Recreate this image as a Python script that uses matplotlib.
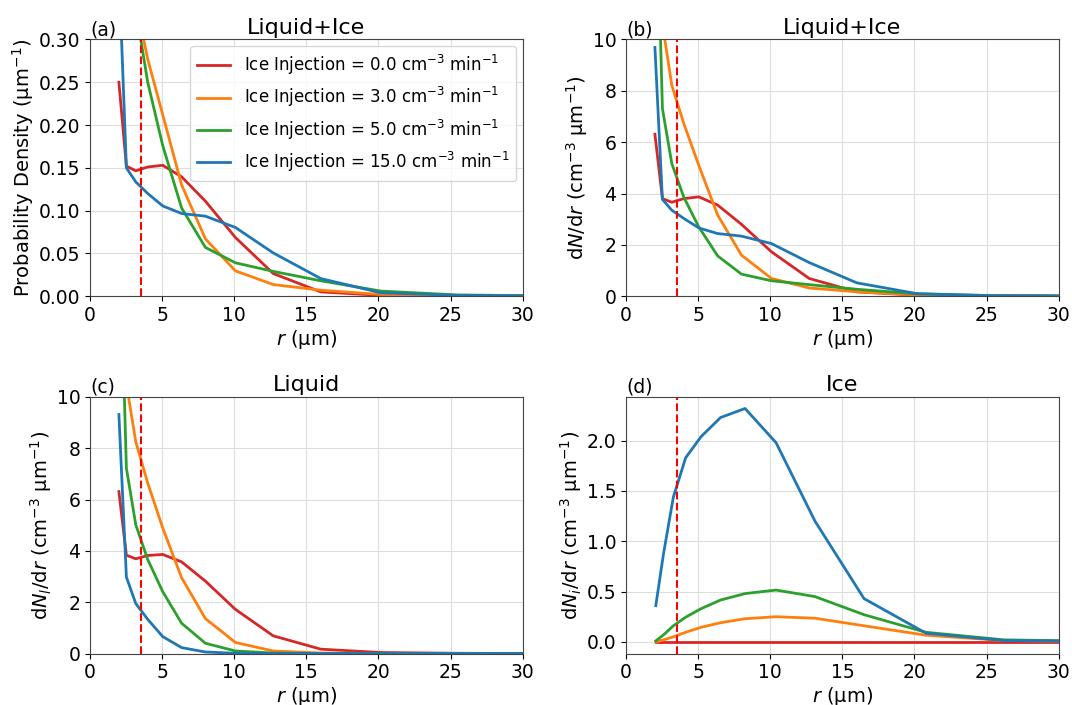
import numpy as np
import matplotlib.pyplot as plt

# Radius bins (µm)
r_liq = [2.0, 2.52, 3.17, 4.0, 5.04, 6.35, 8.0, 10.08, 12.7, 16.0, 20.16, 25.4, 32.0]
r_ice = [2.06, 2.6, 3.28, 4.13, 5.2, 6.55, 8.25, 10.4, 13.1, 16.5, 20.8, 26.2, 33.0]

labels = ["Ice Injection = 0.0 cm$^{-3}$ min$^{-1}$",
          "Ice Injection = 3.0 cm$^{-3}$ min$^{-1}$",
          "Ice Injection = 5.0 cm$^{-3}$ min$^{-1}$",
          "Ice Injection = 15.0 cm$^{-3}$ min$^{-1}$"]
colors = ["tab:red", "tab:orange", "tab:green", "tab:blue"]

# (a) probability density, liquid+ice
pdf_0 = [0.250, 0.152, 0.1465, 0.151, 0.153, 0.1395, 0.111, 0.0686, 0.0265, 0.005, 0.001, 0.0002, 0.0]
pdf_3 = [0.55, 0.445, 0.345, 0.277, 0.212, 0.130, 0.067, 0.0296, 0.0136, 0.007, 0.002, 0.0005, 0.0]
pdf_5 = [1.20, 0.475, 0.336, 0.250, 0.176, 0.103, 0.057, 0.039, 0.029, 0.018, 0.006, 0.0015, 0.0003]
pdf_15 = [0.383, 0.150, 0.1336, 0.120, 0.1055, 0.0966, 0.0935, 0.0803, 0.0506, 0.0206, 0.004, 0.001, 0.0002]

# (b) dN/dr, liquid+ice
tot_0 = [6.31, 3.80, 3.66, 3.80, 3.87, 3.55, 2.80, 1.73, 0.69, 0.17, 0.04, 0.01, 0.0]
tot_3 = [13.0, 10.6, 8.22, 6.73, 5.10, 3.16, 1.60, 0.69, 0.32, 0.17, 0.05, 0.01, 0.0]
tot_5 = [18.0, 7.31, 5.17, 3.86, 2.70, 1.57, 0.86, 0.60, 0.45, 0.27, 0.09, 0.02, 0.005]
tot_15 = [9.69, 3.77, 3.35, 3.03, 2.66, 2.44, 2.34, 2.05, 1.31, 0.52, 0.10, 0.02, 0.005]

# (c) dN_l/dr, liquid
liq_0 = [6.31, 3.83, 3.69, 3.82, 3.86, 3.57, 2.82, 1.72, 0.69, 0.17, 0.04, 0.01, 0.0]
liq_3 = [13.0, 10.5, 8.25, 6.64, 4.89, 2.95, 1.36, 0.43, 0.10, 0.02, 0.0, 0.0, 0.0]
liq_5 = [17.6, 7.22, 5.02, 3.66, 2.41, 1.18, 0.40, 0.10, 0.02, 0.0, 0.0, 0.0, 0.0]
liq_15 = [9.31, 2.98, 1.95, 1.33, 0.66, 0.23, 0.06, 0.01, 0.0, 0.0, 0.0, 0.0, 0.0]

# (d) dN_i/dr, ice
ice_0 = [0.0] * 13
ice_3 = [0.0, 0.02, 0.05, 0.095, 0.145, 0.19, 0.23, 0.25, 0.235, 0.16, 0.066, 0.013, 0.003]
ice_5 = [0.01, 0.07, 0.16, 0.245, 0.33, 0.416, 0.48, 0.515, 0.45, 0.27, 0.095, 0.02, 0.005]
ice_15 = [0.36, 0.88, 1.44, 1.83, 2.04, 2.23, 2.32, 1.98, 1.20, 0.43, 0.086, 0.013, 0.005]

r_cut = 3.5

plt.rcParams["font.size"] = 13.5
plt.rcParams["axes.labelpad"] = 2
fig, axs = plt.subplots(2, 2, figsize=(10.72, 7.05), dpi=100)
fig.subplots_adjust(left=0.084, right=0.9876, top=0.944, bottom=0.073,
                    wspace=0.239, hspace=0.392)

panels = [
    (axs[0, 0], r_liq, [pdf_0, pdf_3, pdf_5, pdf_15], "Liquid+Ice", "(a)",
     "Probability Density (µm$^{-1}$)", (0, 0.3)),
    (axs[0, 1], r_liq, [tot_0, tot_3, tot_5, tot_15], "Liquid+Ice", "(b)",
     r"d$N$/d$r$ (cm$^{-3}$ µm$^{-1}$)", (0, 10)),
    (axs[1, 0], r_liq, [liq_0, liq_3, liq_5, liq_15], "Liquid", "(c)",
     r"d$N_l$/d$r$ (cm$^{-3}$ µm$^{-1}$)", (0, 10)),
    (axs[1, 1], r_ice, [ice_0, ice_3, ice_5, ice_15], "Ice", "(d)",
     r"d$N_i$/d$r$ (cm$^{-3}$ µm$^{-1}$)", None),
]

for ax, r, series, title, tag, ylab, ylim in panels:
    for y, c, lab in zip(series, colors, labels):
        ax.plot(r, y, color=c, lw=2, label=lab)
    ax.axvline(r_cut, color="red", ls="--", lw=1.5)
    ax.set_xlim(0, 30)
    if ylim is not None:
        ax.set_ylim(*ylim)
    ax.set_title(title, fontsize=16, pad=4)
    ax.text(0, 1.0, tag, transform=ax.transAxes, ha="left", va="bottom", fontsize=13.5)
    ax.set_xlabel(r"$r$ (µm)", fontsize=14)
    ax.set_ylabel(ylab, fontsize=14)
    ax.grid(True, color="#dddddd", lw=0.8)
    for s in ax.spines.values():
        s.set_color("#444444")

axs[0, 0].legend(loc="upper right", fontsize=12, borderaxespad=0.4)

fig.savefig("out.png", dpi=100)
